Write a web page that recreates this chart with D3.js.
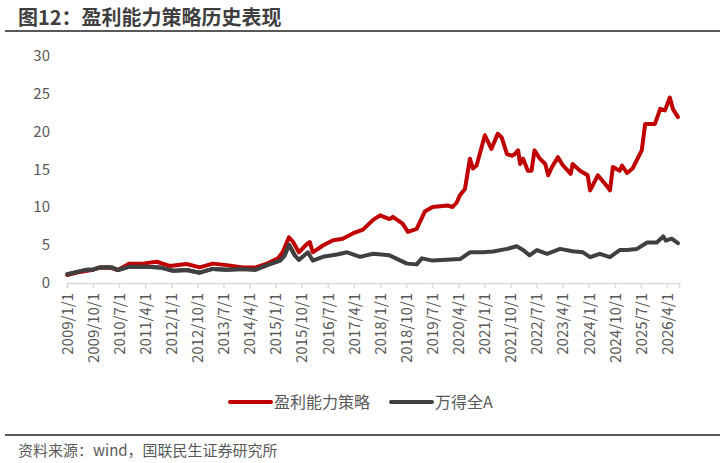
<!DOCTYPE html>
<html><head><meta charset="utf-8">
<script src="https://cdn.jsdelivr.net/npm/d3@7"></script>
<style>
html,body{margin:0;padding:0;background:#fff;}
svg{display:block;font-family:"Noto Sans CJK SC","Noto Sans",sans-serif;}
</style></head>
<body><svg id="c" width="720" height="463"></svg>
<script>
const titleText = "图12：盈利能力策略历史表现";
const sourceText = "资料来源：wind，国联民生证券研究所";
const seriesNames = ["盈利能力策略", "万得全A"];
const yTicks = [0, 5, 10, 15, 20, 25, 30];
const xTickLabels = ["2009/1/1","2009/10/1","2010/7/1","2011/4/1","2012/1/1","2012/10/1","2013/7/1","2014/4/1","2015/1/1","2015/10/1","2016/7/1","2017/4/1","2018/1/1","2018/10/1","2019/7/1","2020/4/1","2021/1/1","2021/10/1","2022/7/1","2023/4/1","2024/1/1","2024/10/1","2025/7/1","2026/4/1"];

const redDates = ["2009-01-05","2009-05-15","2009-10-01","2009-12-15","2010-03-20","2010-06-20","2010-10-20","2011-03-05","2011-08-01","2011-12-15","2012-06-10","2012-10-25","2013-03-10","2013-08-05","2014-01-20","2014-06-05","2014-10-01","2015-01-25","2015-03-15","2015-05-20","2015-07-01","2015-09-01","2015-11-25","2015-12-25","2016-01-25","2016-05-10","2016-08-25","2016-12-05","2017-03-20","2017-07-05","2017-10-20","2018-01-01","2018-04-10","2018-05-15","2018-08-25","2018-10-20","2019-01-20","2019-04-15","2019-07-05","2019-12-10","2020-02-01","2020-03-15","2020-04-20","2020-06-10","2020-08-01","2020-09-01","2020-10-10","2021-01-05","2021-03-15","2021-05-20","2021-07-01","2021-08-25","2021-10-15","2021-11-15","2021-12-20","2022-01-10","2022-02-10","2022-04-01","2022-05-10","2022-06-10","2022-08-05","2022-10-01","2022-11-01","2022-12-10","2023-02-10","2023-04-05","2023-06-25","2023-07-15","2023-10-01","2023-12-20","2024-01-15","2024-04-05","2024-07-20","2024-08-10","2024-09-10","2024-11-20","2024-12-15","2025-02-05","2025-04-05","2025-07-10","2025-08-15","2025-11-25","2026-01-20","2026-03-10","2026-05-01","2026-06-01","2026-07-25"];
const redValues = [1.0,1.4,1.7,2.0,2.0,1.65,2.5,2.5,2.75,2.2,2.45,2.0,2.5,2.3,2.0,2.0,2.5,3.2,4.0,6.0,5.4,4.0,5.1,5.35,4.0,4.9,5.6,5.8,6.5,7.0,8.3,8.9,8.4,8.7,7.8,6.7,7.1,9.4,10.0,10.2,10.0,10.6,11.6,12.4,16.4,15.1,15.5,19.5,17.7,19.7,19.2,17.0,16.8,17.0,17.5,15.7,16.4,14.8,14.8,17.5,16.4,15.7,14.2,15.3,16.6,15.5,14.4,15.7,14.8,14.2,12.2,14.2,12.6,12.2,15.3,14.8,15.5,14.5,15.1,17.5,21.0,21.0,23.0,22.8,24.5,23.0,21.9];

const grayDates = ["2009-01-05","2009-08-01","2009-10-01","2009-12-15","2010-04-15","2010-06-20","2010-10-20","2011-04-20","2011-09-05","2012-01-20","2012-06-10","2012-10-25","2013-03-10","2013-08-05","2014-01-20","2014-06-05","2014-10-01","2015-02-15","2015-04-05","2015-05-20","2015-07-20","2015-09-01","2015-12-05","2016-01-25","2016-05-10","2016-10-05","2017-01-20","2017-06-05","2017-10-20","2018-04-10","2018-10-10","2019-01-20","2019-03-15","2019-07-05","2019-12-01","2020-04-20","2020-08-01","2020-12-15","2021-04-01","2021-08-25","2021-12-05","2022-02-10","2022-04-20","2022-07-05","2022-10-20","2023-03-05","2023-07-15","2023-11-01","2024-01-15","2024-04-25","2024-08-10","2024-11-20","2025-02-05","2025-05-20","2025-09-05","2025-12-15","2026-02-20","2026-03-20","2026-05-20","2026-07-25"];
const grayValues = [1.1,1.7,1.7,2.0,2.0,1.65,2.1,2.1,2.0,1.55,1.65,1.3,1.8,1.7,1.8,1.7,2.3,2.9,3.6,5.0,3.6,3.0,4.0,2.9,3.4,3.7,4.0,3.4,3.8,3.6,2.5,2.4,3.2,2.9,3.0,3.1,4.0,4.0,4.1,4.45,4.8,4.3,3.6,4.3,3.8,4.45,4.15,4.0,3.35,3.8,3.35,4.3,4.3,4.45,5.3,5.3,6.1,5.55,5.8,5.2];

const colors = ["#c00000", "#404040"];
const textColor = "#595959";

const parse = d3.timeParse("%Y-%m-%d");
const parseTick = d3.timeParse("%Y/%m/%d");
const svg = d3.select("#c");

const x = d3.scaleTime().domain([parse("2009-01-01"), parse("2026-08-05")]).range([67, 679]);
const y = d3.scaleLinear().domain([0, 30]).range([282.5, 56]);

// title
svg.append("text").attr("x", 18).attr("y", 25).attr("font-size", 20).attr("font-weight", "bold")
  .attr("fill", "#3f3f3f").text(titleText);
svg.append("line").attr("x1", 5).attr("x2", 720).attr("y1", 31).attr("y2", 31)
  .attr("stroke", "#595959").attr("stroke-width", 2);

// y axis labels
const yAxis = d3.axisLeft(y).tickValues(yTicks).tickSize(0).tickPadding(0).tickFormat(d3.format("d"));
const yg = svg.append("g").attr("transform", "translate(50,0)").call(yAxis);
yg.select(".domain").remove();
yg.selectAll("text").attr("font-size", 15).attr("fill", textColor).attr("font-family", "'Noto Sans CJK SC','Noto Sans',sans-serif").attr("dy", "0.32em");

// x axis
const xAxis = d3.axisBottom(x).tickValues(xTickLabels.map(s => parseTick(s))).tickSize(5)
  .tickFormat(d3.timeFormat("%Y/%-m/%-d"));
const xg = svg.append("g").attr("transform", "translate(0,283)").call(xAxis);
xg.select(".domain").attr("stroke", "#d9d9d9").attr("stroke-width", 1.5);
xg.selectAll(".tick line").attr("stroke", "#d9d9d9").attr("stroke-width", 1.5);
xg.selectAll("text").attr("font-size", 15).attr("fill", textColor)
  .attr("font-family", "'Noto Sans CJK SC','Noto Sans',sans-serif")
  .attr("text-anchor", "end").attr("transform", "rotate(-90)")
  .attr("x", -10).attr("y", 0).attr("dy", "0.35em");

// lines
const series = [
  {name: seriesNames[0], data: redDates.map((d, i) => ({d: parse(d), v: redValues[i]})), color: colors[0]},
  {name: seriesNames[1], data: grayDates.map((d, i) => ({d: parse(d), v: grayValues[i]})), color: colors[1]}
];
const line = d3.line().x(p => x(p.d)).y(p => y(p.v));
[series[1], series[0]].forEach(s => {
  svg.append("path").datum(s.data).attr("d", line).attr("fill", "none")
    .attr("stroke", s.color).attr("stroke-width", 4).attr("stroke-linejoin", "round").attr("stroke-linecap", "round");
});
// draw gray on top of red in early part like reference? keep red on top except start
svg.append("path").datum(series[1].data.filter(p => p.d < parse("2015-08-01"))).attr("d", line).attr("fill", "none")
  .attr("stroke", colors[1]).attr("stroke-width", 4).attr("stroke-linejoin", "round").attr("stroke-linecap", "round");

// legend
const legendItems = [{x: 230, tx: 274}, {x: 391, tx: 435}];
legendItems.forEach((l, i) => {
  svg.append("line").attr("x1", l.x).attr("x2", l.x + 41).attr("y1", 402).attr("y2", 402)
    .attr("stroke", colors[i]).attr("stroke-width", 4).attr("stroke-linecap", "round");
  svg.append("text").attr("x", l.tx).attr("y", 402).attr("dy", "0.35em").attr("font-size", 16)
    .attr("fill", textColor).text(seriesNames[i]);
});

// footer
svg.append("line").attr("x1", 5).attr("x2", 720).attr("y1", 435).attr("y2", 435)
  .attr("stroke", "#595959").attr("stroke-width", 2);
svg.append("text").attr("x", 18).attr("y", 456).attr("font-size", 15).attr("fill", textColor).text(sourceText);
</script></body></html>
